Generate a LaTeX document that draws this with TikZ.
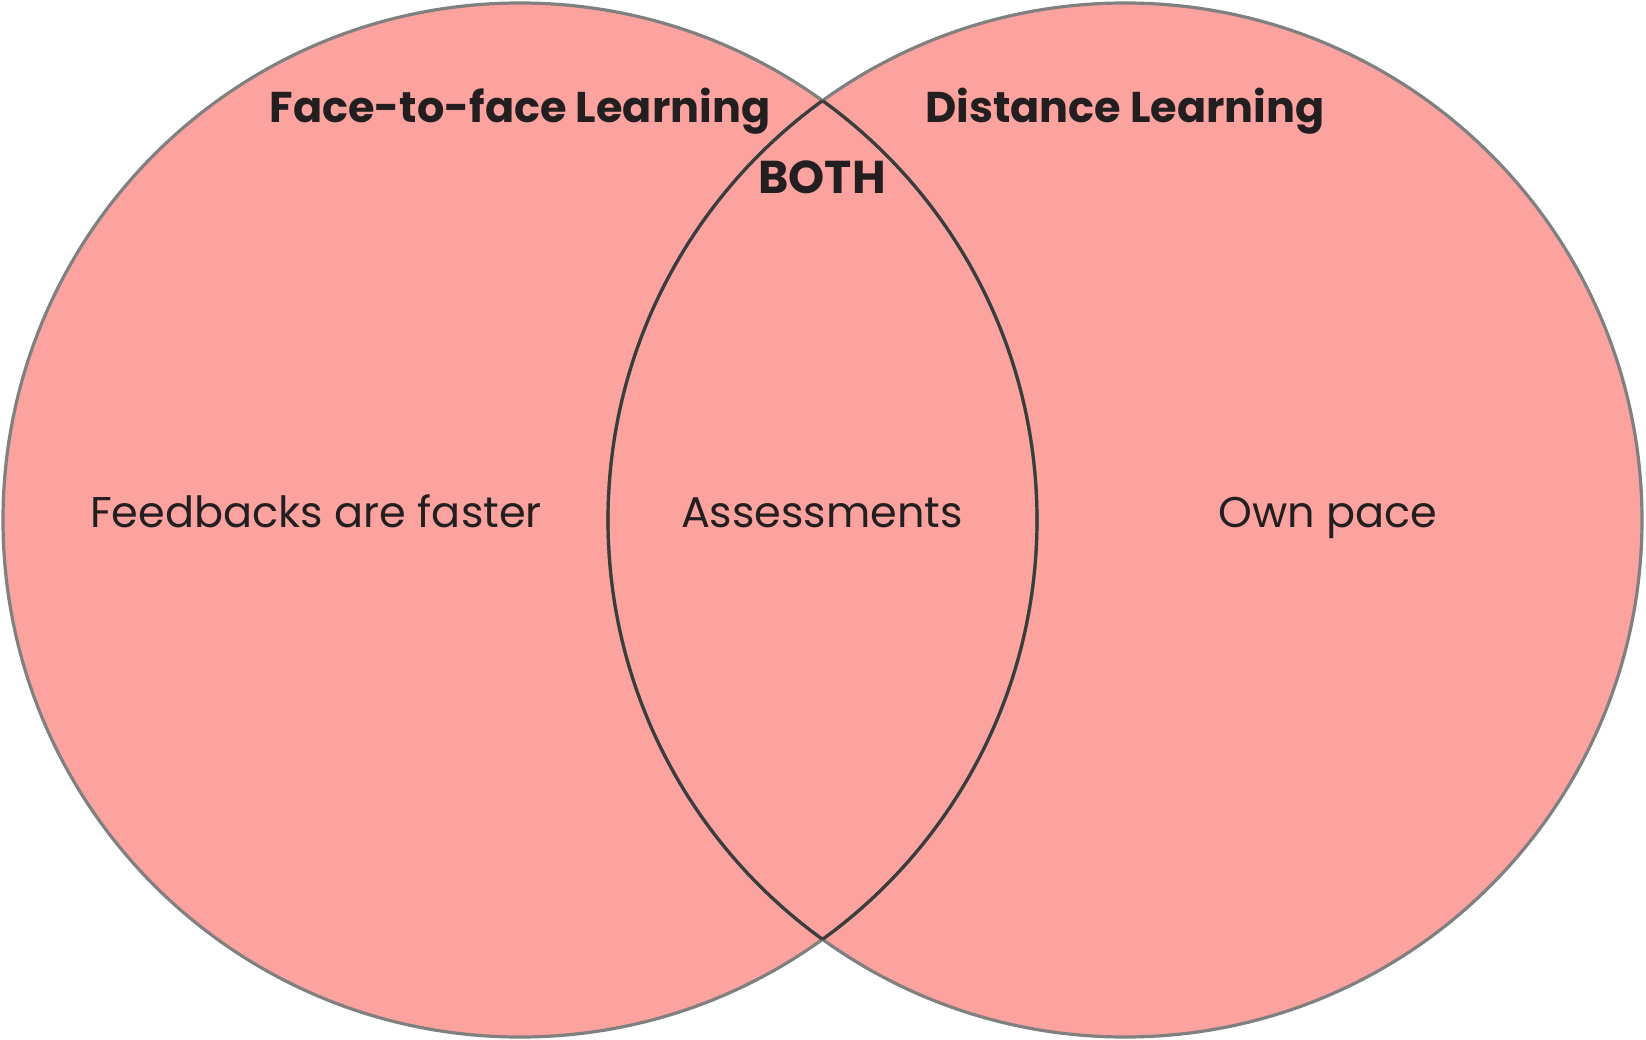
\documentclass[tikz,border=0pt]{standalone}
\usepackage{fontspec}
\setmainfont{Poppins}
\newfontfamily\headfont{Poppins}[UprightFont=* Bold]
\newfontfamily\bodyfont{Poppins}
\definecolor{vennfill}{RGB}{252,163,159}
\definecolor{outerline}{RGB}{128,128,128}
\definecolor{innerline}{RGB}{60,60,60}
\definecolor{labeltext}{RGB}{35,31,32}
\begin{document}
\begin{tikzpicture}[x=1pt,y=-1pt,
  heading/.style={text=labeltext,font=\headfont\fontsize{43}{52}\selectfont,inner sep=0pt,anchor=base},
  item/.style={text=labeltext,font=\bodyfont\fontsize{43}{52}\selectfont,inner sep=0pt,anchor=base},
  rim/.style={line width=3.2pt}]
\useasboundingbox (0,0) rectangle (1646,1040);
% set centres
\coordinate (cl) at (520,520);
\coordinate (cr) at (1125,520);
\def\R{517}
% fills
\fill[vennfill] (cl) circle[radius=\R];
\fill[vennfill] (cr) circle[radius=\R];
% outlines, grey outside and dark inside the lens
\draw[rim,outerline] (cl) circle[radius=\R];
\draw[rim,outerline] (cr) circle[radius=\R];
\begin{scope}
  \clip (cr) circle[radius=\R];
  \draw[rim,innerline] (cl) circle[radius=\R];
\end{scope}
\begin{scope}
  \clip (cl) circle[radius=\R];
  \draw[rim,innerline] (cr) circle[radius=\R];
\end{scope}
% labels
\node[heading] (ftf) at (520,123) {Face-to-face Learning};
\node[heading] (dist) at (1125,123) {Distance Learning};
\node[heading,font=\headfont\fontsize{46}{54}\selectfont] (both) at (822,194) {BOTH};
\node[item] (fb) at (316,527) {Feedbacks are faster};
\node[item] (as) at (822,527) {Assessments};
\node[item] (op) at (1328,527) {Own pace};
\end{tikzpicture}
\end{document}
